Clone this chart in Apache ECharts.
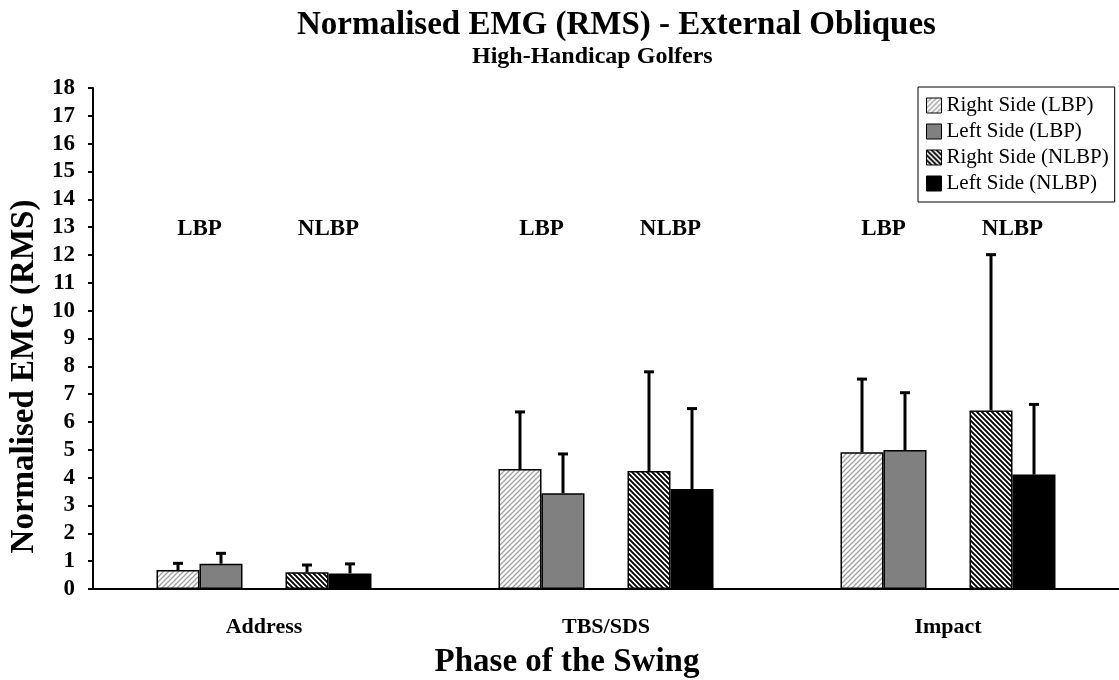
<!DOCTYPE html>
<html>
<head>
<meta charset="utf-8">
<script src="https://cdn.jsdelivr.net/npm/echarts@6/dist/echarts.min.js"></script>
<style>
  html, body { margin: 0; padding: 0; background: #fff; }
  #emgChart { width: 1119px; height: 680px; }
</style>
</head>
<body>
<div id="emgChart"></div>
<script>
// phases of the swing and the four groups (mean + SD, upper SD bar only)
var phases = ['Address', 'TBS/SDS', 'Impact'];
var rightLBP = [0.68, 4.31, 4.91];
var rightLBPsd = [0.26, 2.07, 2.65];
var leftLBP = [0.91, 3.44, 4.99];
var leftLBPsd = [0.39, 1.43, 2.08];
var rightNLBP = [0.60, 4.24, 6.41];
var rightNLBPsd = [0.28, 3.58, 5.62];
var leftNLBP = [0.56, 3.59, 4.11];
var leftNLBPsd = [0.36, 2.91, 2.54];
var groupLabels = ['LBP', 'NLBP'];
var groupLabelLevel = 13;

var FONT = '"Liberation Serif", "Times New Roman", serif';
var barFrac = 43 / 342;   // bar width as a share of a category band

// hatch tiles for the "right side" bars
function hatch(dir, bg, fg, size, lw) {
  var c = document.createElement('canvas');
  c.width = c.height = size;
  var g = c.getContext('2d');
  g.fillStyle = bg;
  g.fillRect(0, 0, size, size);
  g.strokeStyle = fg;
  g.lineWidth = lw;
  g.beginPath();
  if (dir === '/') {
    g.moveTo(-1, size + 1); g.lineTo(size + 1, -1);
    g.moveTo(-1, 1); g.lineTo(1, -1);
    g.moveTo(size - 1, size + 1); g.lineTo(size + 1, size - 1);
  } else {
    g.moveTo(-1, -1); g.lineTo(size + 1, size + 1);
    g.moveTo(size - 1, -1); g.lineTo(size + 1, 1);
    g.moveTo(-1, size - 1); g.lineTo(1, size + 1);
  }
  g.stroke();
  return c;
}

var lightHatch = { image: hatch('/', '#fff', '#a0a0a0', 5, 1.3), repeat: 'repeat' };
var darkHatch = { image: hatch('\\', '#fff', '#000', 5, 1.9), repeat: 'repeat' };

function barSeries(name, data, fill) {
  return {
    name: name,
    type: 'bar',
    barWidth: (barFrac * 100) + '%',
    barGap: '0%',
    data: data,
    itemStyle: { color: fill, borderColor: '#000', borderWidth: 1.5 },
    z: 2
  };
}

// upper error bar, drawn on top of the bar in the given slot
function errorSeries(means, sds, slot) {
  return {
    type: 'custom',
    z: 5,
    silent: true,
    data: phases.map(function (p, i) { return [i, means[i], means[i] + sds[i]]; }),
    renderItem: function (params, api) {
      var band = api.size([1, 0])[0];
      var cx = api.coord([api.value(0), 0])[0] + slot * band * barFrac;
      var yBase = api.coord([api.value(0), api.value(1)])[1];
      var yTop = api.coord([api.value(0), api.value(2)])[1];
      return {
        type: 'group',
        children: [
          { type: 'line', shape: { x1: cx, y1: yBase, x2: cx, y2: yTop }, style: { stroke: '#000', lineWidth: 3 } },
          { type: 'rect', shape: { x: cx - 5, y: yTop - 1, width: 10, height: 3 }, style: { fill: '#000' } }
        ]
      };
    }
  };
}

var chart = echarts.init(document.getElementById('emgChart'));

chart.setOption({
  animation: false,
  title: [{
    text: 'Normalised EMG (RMS) - External Obliques',
    left: 297, top: 9, padding: 0,
    textStyle: { fontFamily: FONT, fontSize: 33, fontWeight: 'bold', color: '#000' }
  }, {
    text: 'High-Handicap Golfers',
    left: 472, top: 45, padding: 0,
    textStyle: { fontFamily: FONT, fontSize: 24, fontWeight: 'bold', color: '#000' }
  }],
  legend: {
    data: ['Right Side (LBP)', 'Left Side (LBP)', 'Right Side (NLBP)', 'Left Side (NLBP)'],
    orient: 'vertical',
    left: 918, top: 87,
    padding: [8, 6, 8, 8],
    itemGap: 5,
    itemWidth: 15, itemHeight: 15,
    icon: 'rect',
    borderColor: '#000', borderWidth: 1,
    itemStyle: { borderColor: '#000', borderWidth: 1 },
    textStyle: { fontFamily: FONT, fontSize: 21, lineHeight: 21, color: '#000' }
  },
  grid: { left: 93, right: 0, top: 88, bottom: 91, outerBoundsMode: 'none', containLabel: false },
  xAxis: {
    type: 'category',
    data: phases,
    name: 'Phase of the Swing',
    nameLocation: 'middle',
    nameGap: 57,
    nameTextStyle: { fontFamily: FONT, fontSize: 33, fontWeight: 'bold', color: '#000', padding: [0, 78, 0, 0] },
    axisLine: { lineStyle: { color: '#000', width: 2 } },
    axisTick: { length: 7, lineStyle: { color: '#000', width: 2 } },
    axisLabel: { margin: 27, fontFamily: FONT, fontSize: 22, fontWeight: 'bold', color: '#000' }
  },
  yAxis: {
    type: 'value',
    min: 0, max: 18, interval: 1,
    name: 'Normalised EMG (RMS)',
    nameLocation: 'middle',
    nameGap: 36,
    nameTextStyle: { fontFamily: FONT, fontSize: 33, fontWeight: 'bold', color: '#000', padding: [0, 76, 0, 0] },
    axisLine: { show: true, lineStyle: { color: '#000', width: 2 } },
    axisTick: { show: true, length: 5, lineStyle: { color: '#000', width: 2 } },
    splitLine: { show: false },
    axisLabel: { margin: 18, fontFamily: FONT, fontSize: 23, fontWeight: 'bold', color: '#000' }
  },
  series: [
    barSeries('Right Side (LBP)', rightLBP, lightHatch),
    barSeries('Left Side (LBP)', leftLBP, '#808080'),
    // empty slot that separates the LBP pair from the NLBP pair
    { name: 'gap', type: 'bar', barWidth: (barFrac * 100) + '%', barGap: '0%', data: phases.map(function () { return '-'; }) },
    barSeries('Right Side (NLBP)', rightNLBP, darkHatch),
    barSeries('Left Side (NLBP)', leftNLBP, '#000'),
    errorSeries(rightLBP, rightLBPsd, -2),
    errorSeries(leftLBP, leftLBPsd, -1),
    errorSeries(rightNLBP, rightNLBPsd, 1),
    errorSeries(leftNLBP, leftNLBPsd, 2),
    {
      type: 'custom',
      silent: true,
      data: phases.map(function (p, i) { return [i, groupLabelLevel]; }),
      renderItem: function (params, api) {
        var band = api.size([1, 0])[0];
        var pt = api.coord([api.value(0), api.value(1)]);
        return {
          type: 'group',
          children: groupLabels.map(function (t, k) {
            return {
              type: 'text',
              x: pt[0] + (k === 0 ? -1.5 : 1.5) * band * barFrac,
              y: pt[1] + 2,
              style: { text: t, fontFamily: FONT, fontSize: 23, fontWeight: 'bold', fill: '#000', align: 'center', verticalAlign: 'middle' }
            };
          })
        };
      }
    }
  ]
});
</script>
</body>
</html>
